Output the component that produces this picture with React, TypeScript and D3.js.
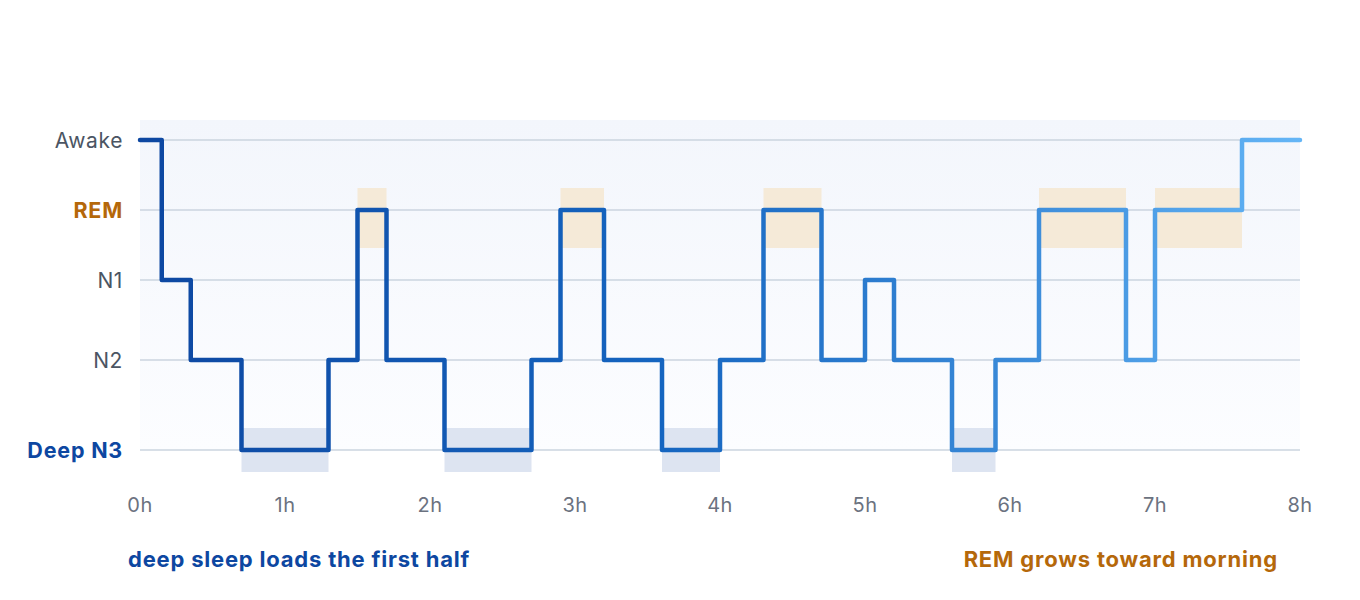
import * as d3 from "d3";

// stage order top to bottom
const stages = ["Awake", "REM", "N1", "N2", "N3"];
const stageLabels = ["Awake", "REM", "N1", "N2", "Deep N3"];
// hypnogram: time (h) where each stage begins
const switchTimes = [0, 0.15, 0.35, 0.7, 1.3, 1.5, 1.7, 2.1, 2.7, 2.9, 3.2, 3.6, 4.0, 4.3, 4.7, 5.0, 5.2, 5.6, 5.9, 6.2, 6.8, 7.0, 7.6];
const switchStages = ["Awake", "N1", "N2", "N3", "N2", "REM", "N2", "N3", "N2", "REM", "N2", "N3", "N2", "REM", "N2", "N1", "N2", "N3", "N2", "REM", "N2", "REM", "Awake"];
const endTime = 8;
const hourTicks = [0, 1, 2, 3, 4, 5, 6, 7, 8];

const W = 1360;
const H = 600;
const left = 140;
const right = 1300;

export default function App() {
  const x = d3.scaleLinear().domain([0, endTime]).range([left, right]);
  const y = d3.scaleOrdinal<string, number>().domain(stages).range([140, 210, 280, 360, 450]);

  const pts = switchTimes.map((t, i) => ({ t, s: switchStages[i] }));
  pts.push({ t: endTime, s: switchStages[switchStages.length - 1] });

  const line = d3
    .line<{ t: number; s: string }>()
    .x((d) => x(d.t))
    .y((d) => y(d.s))
    .curve(d3.curveStepAfter);

  const segs = switchTimes.map((t, i) => ({
    s: switchStages[i],
    t0: t,
    t1: i + 1 < switchTimes.length ? switchTimes[i + 1] : endTime,
  }));

  const labelColor = (s: string) => (s === "REM" ? "#b5680a" : s === "N3" ? "#0d47a1" : "#4b5563");
  const isBold = (s: string) => s === "REM" || s === "N3";

  return (
    <svg width={W} height={H} style={{ position: "absolute", left: 0, top: 0, fontFamily: "Inter, sans-serif" }}>
      <defs>
        <linearGradient id="bg" x1="0" y1="0" x2="0" y2="1">
          <stop offset="0" stopColor="#f3f6fc" />
          <stop offset="1" stopColor="#fcfdff" />
        </linearGradient>
        <linearGradient id="lineGrad" gradientUnits="userSpaceOnUse" x1={left} y1={0} x2={right} y2={0}>
          <stop offset="0" stopColor="#0d47a1" />
          <stop offset="0.45" stopColor="#1565c0" />
          <stop offset="0.75" stopColor="#3a8ad8" />
          <stop offset="1" stopColor="#64b5f6" />
        </linearGradient>
      </defs>

      <rect x={left} y={120} width={right - left} height={y("N3") - 120} fill="url(#bg)" />

      {segs
        .filter((d) => d.s === "N3")
        .map((d, i) => (
          <rect key={"n3" + i} x={x(d.t0)} width={x(d.t1) - x(d.t0)} y={y("N3") - 22} height={44} fill="#dde4f1" />
        ))}
      {segs
        .filter((d) => d.s === "REM")
        .map((d, i) => (
          <rect key={"rem" + i} x={x(d.t0)} width={x(d.t1) - x(d.t0)} y={y("REM") - 22} height={60} fill="#f5ead8" />
        ))}

      {stages.map((s) => (
        <line key={s} x1={left} x2={right} y1={y(s)} y2={y(s)} stroke="#cbd5df" strokeWidth={1.5} />
      ))}

      {stages.map((s, i) => (
        <text
          key={s}
          x={123}
          y={y(s)}
          dy="0.36em"
          textAnchor="end"
          fontSize={isBold(s) ? 21.5 : 21}
          fontWeight={isBold(s) ? 700 : 400}
          letterSpacing={isBold(s) ? 0.8 : 0.6}
          fill={labelColor(s)}
        >
          {stageLabels[i]}
        </text>
      ))}

      <path
        d={line(pts) ?? ""}
        fill="none"
        stroke="url(#lineGrad)"
        strokeWidth={4.5}
        strokeLinejoin="round"
        strokeLinecap="round"
      />

      {hourTicks.map((h) => (
        <text key={h} x={x(h)} y={512} textAnchor="middle" fontSize={20} letterSpacing={0.4} fill="#6b7280">
          {h}h
        </text>
      ))}

      <text x={128} y={567} fontSize={22} fontWeight={700} letterSpacing={0.8} fill="#0d47a1">
        deep sleep loads the first half
      </text>
      <text x={1278} y={567} textAnchor="end" fontSize={22} fontWeight={700} letterSpacing={0.8} fill="#b5680a">
        REM grows toward morning
      </text>
    </svg>
  );
}
